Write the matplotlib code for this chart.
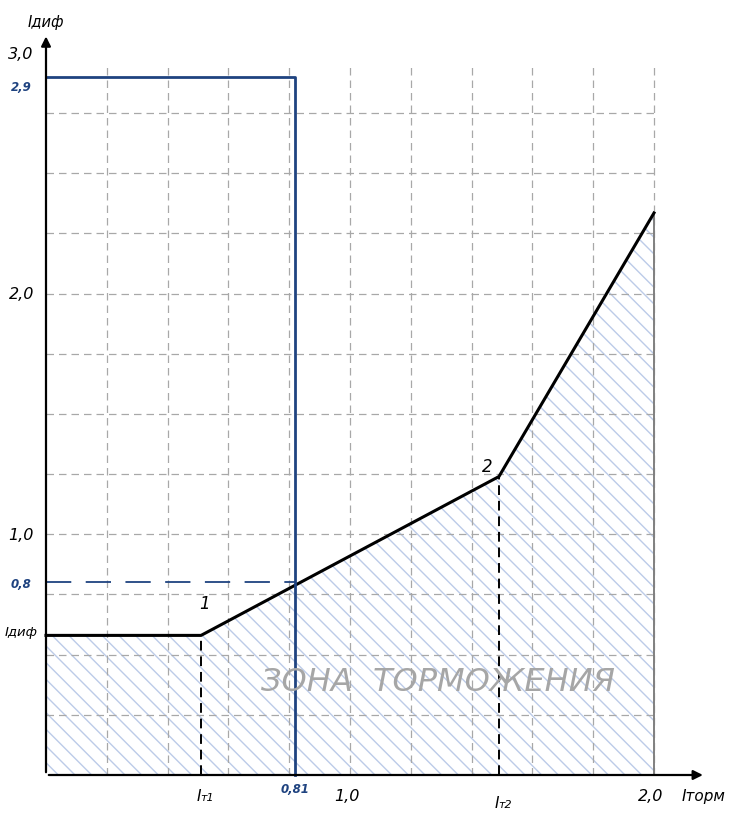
import numpy as np
import matplotlib
matplotlib.use("Agg")
import matplotlib.pyplot as plt

# ── Data ──────────────────────────────────────────────────────────────
# braking characteristic: flat part, point 1, point 2, end at 2.0
char_x = [0.0, 0.51, 1.49, 2.0]
char_y = [0.58, 0.58, 1.24, 2.335]

# blue cut-off line (drawn at ~0.82 in the picture, labelled 0,81) and 0.8 level
blue_x = [0.0, 0.82, 0.82]
blue_y = [2.9, 2.9, 0.0]
blue_level = 0.8

grid_x = [0.2, 0.4, 0.6, 0.8, 1.0, 1.2, 1.4, 1.6, 1.8, 2.0]
grid_y = [0.25, 0.5, 0.75, 1.0, 1.25, 1.5, 1.75, 2.0, 2.25, 2.5, 2.75]

y_ticks = [1.0, 2.0, 3.0]
y_tick_labels = ["1,0", "2,0", "3,0"]
x_ticks = [1.0, 2.0]
x_tick_labels = ["1,0", "2,0"]

BLUE = "#1f4380"
GRID = "#a8a8a8"
HATCH = "#bccbe8"
FONT = "DejaVu Sans"

# ── Figure: axes fill the canvas, data coords map to pixels ──────────
fig = plt.figure(figsize=(7.3, 8.14), dpi=100)
ax = fig.add_axes([0, 0, 1, 1])
ax.set_xlim(-46 / 304, (730 - 46) / 304)
ax.set_ylim((775 - 814) / 240.7, 775 / 240.7)
ax.axis("off")

# hatched braking zone
ax.fill_between(char_x, 0, char_y, facecolor="none", edgecolor=HATCH,
                hatch="\\\\", linewidth=0, zorder=1)

# grid
for gx in grid_x:
    ax.plot([gx, gx], [0, 2.95], color=GRID, lw=0.9, ls=(0, (6, 4)), zorder=2)
for gy in grid_y:
    ax.plot([0, 2.0], [gy, gy], color=GRID, lw=0.9, ls=(0, (6, 4)), zorder=2)

# right boundary of the zone
ax.plot([2.0, 2.0], [0, char_y[-1]], color="#808080", lw=1.4, zorder=3)

# dashed drops from points 1 and 2
for px, py in zip(char_x[1:3], char_y[1:3]):
    ax.plot([px, px], [0, py], color="black", lw=1.4, ls=(0, (5, 3)), zorder=4)

# 0.8 level
ax.plot([0, blue_x[1]], [blue_level, blue_level], color=BLUE, lw=1.3,
        ls=(0, (14, 8)), zorder=4)

# characteristic and blue line
ax.plot(char_x, char_y, color="black", lw=2.2, zorder=5)
ax.plot(blue_x, blue_y, color=BLUE, lw=2.0, zorder=5)

# axes with arrows
ax.annotate("", xy=(2.17, 0), xytext=(0, 0),
            arrowprops=dict(arrowstyle="-|>", color="black", lw=1.6,
                            mutation_scale=14), zorder=6)
ax.annotate("", xy=(0, 3.08), xytext=(0, 0),
            arrowprops=dict(arrowstyle="-|>", color="black", lw=1.6,
                            mutation_scale=14), zorder=6)

# ── Labels ────────────────────────────────────────────────────────────
lab = dict(family=FONT, style="italic", fontsize=11.5, color="black")
for v, t in zip(y_ticks, y_tick_labels):
    ax.text(-0.04, v - 0.005, t, ha="right", va="center", **lab)
for v, t in zip(x_ticks, x_tick_labels):
    ax.text(v - 0.01, -0.09, t, ha="center", va="center", **lab)

blab = dict(family=FONT, style="italic", weight="bold", fontsize=8.5, color=BLUE)
ax.text(-0.048, 2.855, "2,9", ha="right", va="center", **blab)
ax.text(-0.048, blue_level - 0.01, "0,8", ha="right", va="center", **blab)
ax.text(blue_x[1], -0.06, "0,81", ha="center", va="center", **blab)

ax.text(-0.028, char_y[0] + 0.01, "Iдиф", ha="right", va="center",
        family=FONT, style="italic", fontsize=9.5)
ax.text(0.0, 3.125, "Iдиф", ha="center", va="center",
        family=FONT, style="italic", fontsize=10.5)
ax.text(2.09, -0.09, "Iторм", ha="left", va="center",
        family=FONT, style="italic", fontsize=11)

# Iт1, Iт2
for px, py, num in [(char_x[1], -0.09, "1"), (char_x[2], -0.12, "2")]:
    ax.text(px, py, "I", ha="right", va="center",
            family=FONT, style="italic", fontsize=11)
    ax.text(px - 0.002, py - 0.005, "т" + num,
            ha="left", va="center", family=FONT, style="italic", fontsize=8)

ax.text(char_x[1] + 0.01, 0.71, "1", ha="center", va="center",
        family=FONT, style="italic", fontsize=12)
ax.text(char_x[2] - 0.04, 1.28, "2", ha="center", va="center",
        family=FONT, style="italic", fontsize=12)

ax.text(1.29, 0.385, "ЗОНА  ТОРМОЖЕНИЯ", ha="center", va="center",
        family=FONT, style="italic", fontsize=23, color="#a6a6a6", zorder=6)

fig.savefig("out.png", dpi=100)
